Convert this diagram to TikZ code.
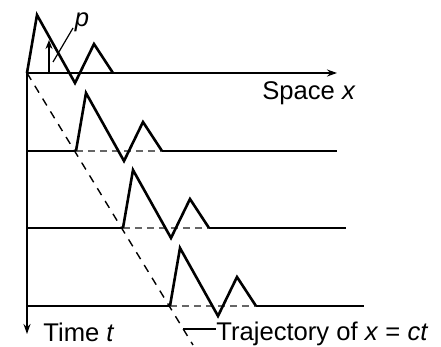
\documentclass[tikz,border=0pt]{standalone}
\usepackage{fontspec}
\setmainfont{Liberation Sans}
\usetikzlibrary{arrows.meta,calc}
\tikzset{
  axis/.style  ={line width=0.9pt, -{Stealth[length=5pt,width=3.5pt]}},
  base/.style  ={line width=0.9pt},
  gap/.style   ={line width=0.6pt, draw=black!60, dash pattern=on 3.5pt off 2.5pt},
  pulse/.style ={line width=1.3pt, line join=miter, miter limit=20},
  traj/.style  ={line width=0.7pt, dash pattern=on 4pt off 3.5pt},
  lead/.style  ={line width=0.6pt},
  lbl/.style   ={font=\fontsize{12.8}{15}\selectfont, inner sep=0pt}
}
\newcommand{\pulse}[1]{\draw[pulse] (#1) -- ++(10,-58) -- ++(38,68)
  -- ++(19,-39) -- ++(19,29);}

\begin{document}
\begin{tikzpicture}[x=0.5pt, y=-0.5pt]
\useasboundingbox (0,0) rectangle (441,347);
% Axes meet where the first pulse starts.
\coordinate (o)  at (27,73);
\coordinate (xe) at (337,73);
\coordinate (te) at (27,334);
\draw[axis] (o) -- (xe);
\draw[axis] (o) -- (te);
\node[lbl, anchor=base west] (space) at (262,100) {Space \textit{x}};
\node[lbl, anchor=base west] (time)  at (43,342)  {Time \textit{t}};

% Later rows: left end, pulse start, pulse end, right end.
\coordinate (l2) at (27,151);  \coordinate (s2) at (76,151);
\coordinate (e2) at (162,151); \coordinate (r2) at (337,151);
\coordinate (l3) at (27,228);  \coordinate (s3) at (123,228);
\coordinate (e3) at (209,228); \coordinate (r3) at (346,228);
\coordinate (l4) at (27,306);  \coordinate (s4) at (170,306);
\coordinate (e4) at (256,306); \coordinate (r4) at (364,306);
\draw[base] (l2) -- (s2) (e2) -- (r2);
\draw[base] (l3) -- (s3) (e3) -- (r3);
\draw[base] (l4) -- (s4) (e4) -- (r4);
\draw[gap] (s2) -- (e2);
\draw[gap] (s3) -- (e3);
\draw[gap] (s4) -- (e4);
\pulse{o} \pulse{s2} \pulse{s3} \pulse{s4}

% Pressure arrow and its label.
\coordinate (pb) at (49,73);
\coordinate (pt) at (49,40);
\draw[lead, line width=0.8pt, -{Stealth[length=4.5pt,width=3.5pt]}] (pb) -- (pt);
\node[lbl] (p) at (82,22) {\textit{p}};
\coordinate (pl) at (53,62);
\coordinate (pk) at (73,28);
\draw[lead] (pl) -- (pk);

% Trajectory through the pulse starts.
\coordinate (tr) at (193,345);
\draw[traj] (o) -- (tr);
\node[lbl, anchor=base west] (trj) at (216,341)
  {Trajectory of \textit{x} = \textit{ct}};
\coordinate (lk) at ($(o)!0.941!(tr)$);
\draw[lead] (lk) -- (lk -| trj.west);
\end{tikzpicture}
\end{document}
